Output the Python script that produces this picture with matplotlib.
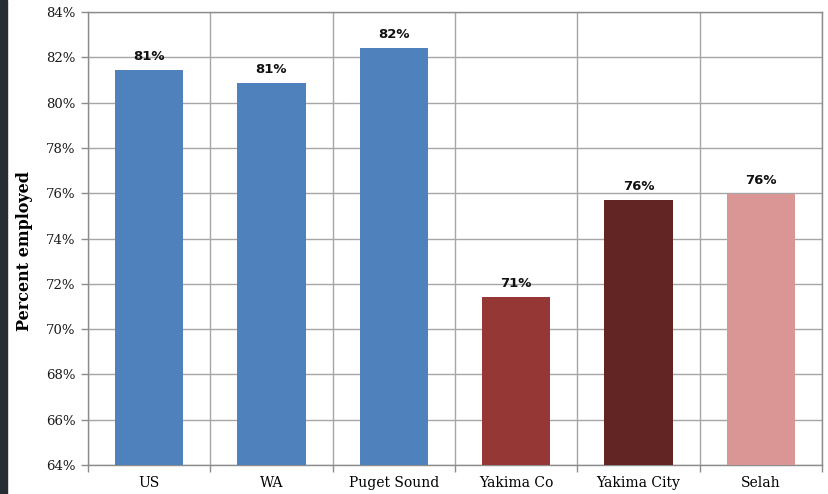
import matplotlib.pyplot as plt
from matplotlib.patches import Rectangle
from matplotlib.ticker import FixedLocator, PercentFormatter
import numpy as np

categories = ['US', 'WA', 'Puget Sound', 'Yakima Co', 'Yakima City', 'Selah']
values = [81.44, 80.86, 82.41, 71.41, 75.69, 75.98]
labels = ['81%', '81%', '82%', '71%', '76%', '76%']
colors = ['#4F81BD', '#4F81BD', '#4F81BD', '#953735', '#632523', '#D99694']

fig = plt.figure(figsize=(8.29, 4.94), dpi=100)
ax = fig.add_axes([88/829, 1 - 465/494, (822 - 88)/829, (465 - 12)/494])

# dark strip down the left edge
fig.patches.append(Rectangle((0, 0), 7/829, 1, transform=fig.transFigure,
                             color='#272d35', zorder=0))

x = np.arange(len(categories))
ax.bar(x, values, width=0.56, color=colors, zorder=3, bottom=0)
ax.set_ylim(64, 84)
ax.set_xlim(-0.5, len(categories) - 0.5)
ax.yaxis.set_major_locator(FixedLocator(np.arange(64, 85, 2)))
ax.yaxis.set_major_formatter(PercentFormatter(decimals=0))

ax.set_xticks(x)
ax.set_xticklabels(categories, fontfamily='DejaVu Serif', fontsize=10)
ax.set_xticks(np.arange(-0.5, len(categories)), minor=True)
ax.tick_params(axis='x', which='major', length=0, pad=8)
ax.tick_params(axis='x', which='minor', length=5, color='#8c8c8c', width=1)
ax.tick_params(axis='y', length=5, color='#8c8c8c', width=1, pad=4)
for t in ax.get_yticklabels():
    t.set_fontfamily('DejaVu Serif')
    t.set_fontsize(9.5)
    t.set_color('#1a1a1a')

ax.grid(axis='y', which='major', color='#a6a6a6', lw=1, zorder=0)
ax.grid(axis='x', which='minor', color='#a6a6a6', lw=1, zorder=0)
for s in ax.spines.values():
    s.set_color('#8c8c8c')
    s.set_linewidth(1)

for xi, v, lab in zip(x, values, labels):
    ax.annotate(lab, (xi, v), xytext=(0, 5), textcoords='offset points',
                ha='center', va='bottom', fontsize=9.5, fontweight='bold',
                fontfamily='DejaVu Sans', color='#111111')

ax.set_ylabel('Percent employed', fontfamily='DejaVu Serif', fontweight='bold',
              fontsize=11.5)
ax.yaxis.set_label_coords(-0.075, 0.472)

fig.savefig('out.png', dpi=100)
